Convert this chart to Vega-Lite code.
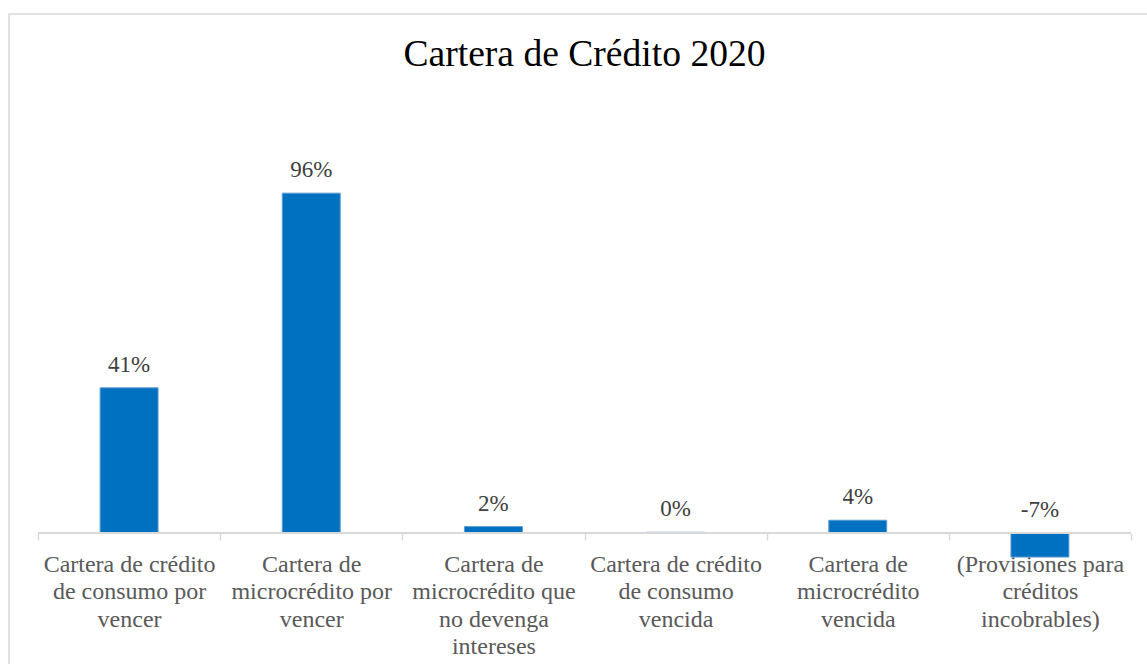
{
  "$schema": "https://vega.github.io/schema/vega-lite/v6.json",
  "autosize": {"type": "none"},
  "padding": {"left": 9, "top": 14, "right": -13, "bottom": -20},
  "width": 1151,
  "height": 670,
  "background": "white",
  "config": {
    "view": {"stroke": "#d9d9d9", "strokeWidth": 1.5},
    "locale": {"number": {"decimal": ".", "thousands": ",", "grouping": [3], "currency": ["$", ""], "minus": "-"}}
  },
  "title": {
    "text": "Cartera de Crédito 2020",
    "font": "Liberation Serif",
    "fontSize": 37.6,
    "fontWeight": "normal",
    "color": "#000000",
    "anchor": "middle",
    "frame": "group",
    "baseline": "alphabetic",
    "offset": -90
  },
  "data": {
    "values": [
      {"categoria": "Cartera de crédito\nde consumo por\nvencer", "valor": 0.41},
      {"categoria": "Cartera de\nmicrocrédito por\nvencer", "valor": 0.96},
      {"categoria": "Cartera de\nmicrocrédito que\nno devenga\nintereses", "valor": 0.018},
      {"categoria": "Cartera de crédito\nde consumo\nvencida", "valor": 0.002},
      {"categoria": "Cartera de\nmicrocrédito\nvencida", "valor": 0.036},
      {"categoria": "(Provisiones para\ncréditos\nincobrables)", "valor": -0.068}
    ]
  },
  "encoding": {
    "x": {
      "field": "categoria",
      "type": "nominal",
      "sort": null,
      "scale": {"paddingInner": 0, "paddingOuter": 0.1592},
      "axis": {
        "orient": "bottom",
        "offset": -151,
        "title": null,
        "domain": false,
        "ticks": true,
        "tickBand": "extent",
        "tickSize": 7,
        "tickColor": "#d9d9d9",
        "tickWidth": 1.5,
        "labelAngle": 0,
        "labelFont": "Liberation Serif",
        "labelFontSize": 24,
        "labelColor": "#595959",
        "labelLineHeight": 27.5,
        "labelPadding": 12,
        "labelBaseline": "top",
        "labelExpr": "split(datum.label, '\\n')"
      }
    }
  },
  "layer": [
    {
      "mark": {"type": "bar", "width": {"band": 0.318}, "color": "#0070C0", "stroke": "#5B9BD5", "strokeWidth": 1},
      "encoding": {
        "y": {
          "field": "valor",
          "type": "quantitative",
          "scale": {"domain": [-0.4266, 1.4661], "nice": false, "zero": false},
          "axis": null
        }
      }
    },
    {
      "transform": [{"calculate": "max(datum.valor, 0)", "as": "posicion"}],
      "mark": {"type": "text", "baseline": "alphabetic", "dy": -16, "font": "Liberation Serif", "fontSize": 23, "color": "#404040"},
      "encoding": {
        "y": {"field": "posicion", "type": "quantitative"},
        "text": {"field": "valor", "type": "quantitative", "format": ".0%"}
      }
    },
    {
      "mark": {"type": "rule", "color": "#d9d9d9", "strokeWidth": 1.5},
      "encoding": {
        "x": {"datum": "Cartera de crédito\nde consumo por\nvencer", "bandPosition": 0},
        "x2": {"datum": "(Provisiones para\ncréditos\nincobrables)", "bandPosition": 1},
        "y": {"datum": 0}
      }
    }
  ]
}
